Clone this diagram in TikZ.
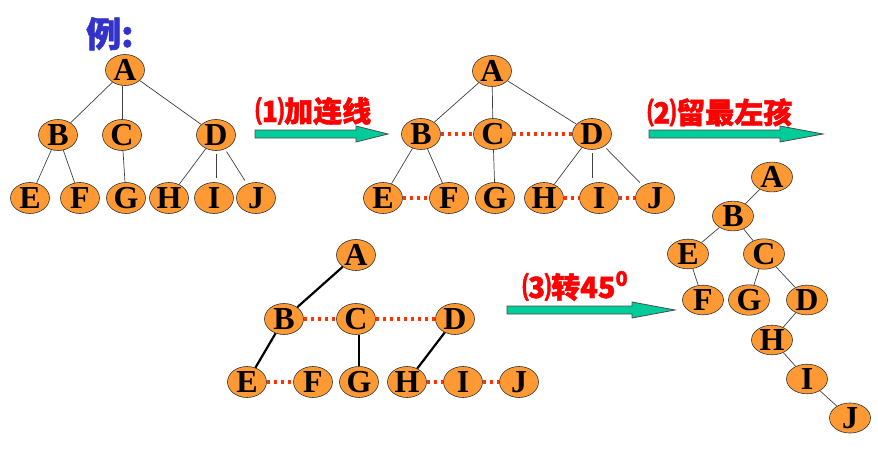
\documentclass[tikz,border=0pt]{standalone}
\usepackage{fontspec}
\setmainfont{Liberation Serif}
\newfontfamily\cjk{Noto Sans CJK SC}[BoldFeatures={FakeBold=1.5}]
\usetikzlibrary{shapes.geometric}
\definecolor{nodeorange}{RGB}{255,153,51}
\definecolor{arrowgreen}{RGB}{0,204,153}
\definecolor{dotred}{RGB}{255,51,0}
\definecolor{titleblue}{RGB}{51,51,204}
\newcommand{\blockarrow}[4]{% start x, head x, tip x, mid y
  \coordinate (ba0) at (#1,#4);
  \filldraw[fill=arrowgreen, draw=black!70, line width=0.8pt]
    (#1,#4-4) -- (#2,#4-4) -- (#2,#4-8) -- (#3,#4) -- (#2,#4+8) -- (#2,#4+4) -- (#1,#4+4) -- cycle;}
\begin{document}
\begin{tikzpicture}[x=1pt,y=-1pt,
  nd/.style={ellipse, draw=black!80, line width=0.6pt, fill=nodeorange,
    minimum width=39pt, minimum height=31pt, inner sep=0pt,
    font=\fontsize{32}{32}\selectfont\bfseries},
  ndf/.style={nd, minimum width=41pt, minimum height=26pt},
  tl/.style={draw=black!75, line width=0.7pt},
  gapl/.style={tl, shorten <=3pt, shorten >=4pt},
  tk/.style={draw=black, line width=2.2pt},
  dl/.style={draw=dotred, line width=3.2pt, dash pattern=on 3.5pt off 3.5pt},
  steplabel/.style={text=red, font=\cjk\bfseries\fontsize{29}{29}\selectfont, anchor=base west, inner sep=0pt},
]
\useasboundingbox (0,0) rectangle (878,455);

% title
\node[anchor=base west, inner sep=0pt, text=titleblue, font=\cjk\bfseries\fontsize{35}{35}\selectfont] (title) at (86,47) {例:};

% ---------- tree 1 ----------
\node[nd] (a1) at (125,70) {A};
\node[nd] (b1) at (58,135) {B};
\node[nd] (c1) at (122,135) {C};
\node[nd] (d1) at (216,135) {D};
\node[nd] (e1) at (30,198) {E};
\node[nd] (f1) at (80,198) {F};
\node[nd] (g1) at (126,198) {G};
\node[nd] (h1) at (169,198) {H};
\node[nd] (i1) at (214,198) {I};
\node[nd] (j1) at (256,198) {J};
\draw[tl] (a1) -- (b1);
\draw[tl] (a1.south -| c1) -- (c1);
\draw[tl] (a1) -- (d1);
\draw[tl] (b1) -- (e1);
\draw[tl] (b1) -- (f1);
\draw[tl] (c1) -- (g1);
\draw[tl] (d1) -- (h1);
\draw[gapl] (d1.south) -- (d1.south |- i1.north);
\draw[gapl] (d1) -- (j1);

% arrow 1
\node[steplabel] (lab1) at (255,122) {⑴加连线};
\blockarrow{255}{356}{388}{134}

% ---------- tree 2 ----------
\node[nd] (a2) at (492,71) {A};
\node[nd] (b2) at (421,134) {B};
\node[nd] (c2) at (493,134) {C};
\node[nd] (d2) at (592,134) {D};
\node[nd] (e2) at (383,198) {E};
\node[nd] (f2) at (449,198) {F};
\node[nd] (g2) at (495,198) {G};
\node[nd] (h2) at (544,198) {H};
\node[nd] (i2) at (599,198) {I};
\node[nd] (j2) at (655,198) {J};
\draw[tl] (a2) -- (b2);
\draw[tl] (a2) -- (c2);
\draw[tl] (a2) -- (d2);
\draw[tl] (b2) -- (e2);
\draw[tl] (b2) -- (f2);
\draw[tl] (c2) -- (g2);
\draw[tl] (d2) -- (h2);
\draw[gapl] (d2.south) -- (d2.south |- i2.north);
\draw[gapl] (d2) -- (j2);
\draw[dl] (b2) -- (c2);
\draw[dl] (c2) -- (d2);
\draw[dl] (e2) -- (f2);
\draw[dl] (h2) -- (i2);
\draw[dl] (i2) -- (j2);

% arrow 2
\node[steplabel] (lab2) at (647,123.5) {⑵留最左孩};
\blockarrow{649}{780}{823}{134}

% ---------- tree 3 ----------
\node[nd] (a3) at (356,255) {A};
\node[nd] (b3) at (284,319) {B};
\node[nd] (c3) at (356,319) {C};
\node[nd] (d3) at (455,319) {D};
\node[nd] (e3) at (247,382) {E};
\node[nd] (f3) at (313,382) {F};
\node[nd] (g3) at (359,382) {G};
\node[nd] (h3) at (407,382) {H};
\node[nd] (i3) at (463,382) {I};
\node[nd] (j3) at (519,382) {J};
\draw[tk] (a3) -- (b3);
\draw[tk] (b3) -- (e3);
\draw[tk] (c3.south -| g3) -- (g3);
\draw[tk] (d3) -- (h3);
\draw[dl] (b3) -- (c3);
\draw[dl] (c3) -- (d3);
\draw[dl] (e3) -- (f3);
\draw[dl] (h3) -- (i3);
\draw[dl] (i3) -- (j3);

% arrow 3
\node[steplabel] (lab3) at (522,298) {⑶转45\raisebox{0.42em}{\fontsize{20}{20}\selectfont 0}};
\blockarrow{507}{632}{675}{310}

% ---------- tree 4 ----------
\node[ndf] (a4) at (772,177) {A};
\node[ndf] (b4) at (733,216) {B};
\node[ndf] (e4) at (688,254) {E};
\node[ndf] (c4) at (764,254) {C};
\node[ndf] (f4) at (703,300) {F};
\node[ndf] (g4) at (749,300) {G};
\node[ndf] (d4) at (807,300) {D};
\node[ndf] (h4) at (772,340) {H};
\node[ndf] (i4) at (807,379) {I};
\node[ndf] (j4) at (850,418) {J};
\draw[tl] (a4) -- (b4);
\draw[tl] (b4) -- (e4);
\draw[tl] (b4) -- (c4);
\draw[tl] (e4) -- (f4);
\draw[tl] (c4) -- (g4);
\draw[tl] (c4) -- (d4);
\draw[tl] (d4) -- (h4);
\draw[tl] (h4) -- (i4);
\draw[tl] (i4) -- (j4);
\end{tikzpicture}
\end{document}
